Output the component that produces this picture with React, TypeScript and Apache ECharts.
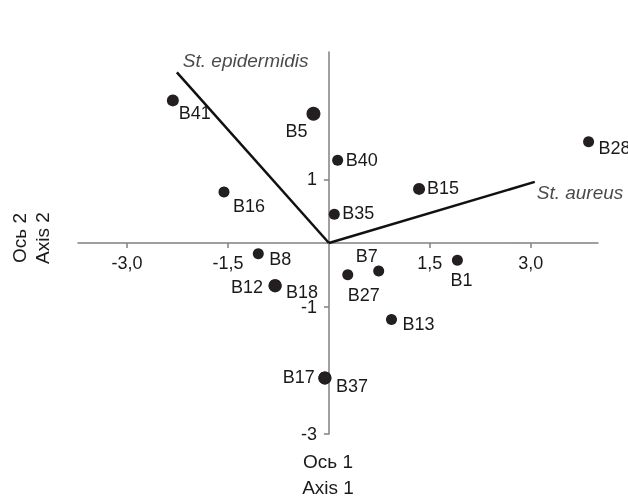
import React, { useEffect, useRef } from "react";
import * as echarts from "echarts";

// ---- data ----
const pointNames = ["B41", "B5", "B40", "B35", "B16", "B15", "B28", "B8", "B12", "B18", "B27", "B7", "B1", "B13", "B17", "B37"];
const axis1Values = [-2.32, -0.23, 0.13, 0.08, -1.56, 1.34, 3.86, -1.05, -0.8, -0.8, 0.28, 0.74, 1.91, 0.93, -0.06, -0.06];
const axis2Values = [2.24, 2.03, 1.3, 0.45, 0.8, 0.85, 1.59, -0.17, -0.67, -0.67, -0.5, -0.44, -0.27, -1.2, -2.12, -2.12];

const vectorNames = ["St. epidermidis", "St. aureus"];
const vectorX = [-2.26, 3.06];
const vectorY = [2.68, 0.96];

const xMin = -3.73;
const xMax = 4.0;
const yMin = -3;
const yMax = 3;
const xTicks = [-3, -1.5, 1.5, 3];
const yTicks = [1, -1, -3];

const xTitle = ["Ось 1", "Axis 1"];
const yTitle = ["Ось 2", "Axis 2"];

// ---- styling / layout (not data) ----
const FONT = "Liberation Sans, Arial, sans-serif";
const TEXT = "#1a1a1a";
const GRID = { left: 78, right: 30, top: 52, bottom: 63 };
const W = 628;
const H = 497;
const dotSize: Record<string, number> = { B5: 14, B12: 13, B18: 13, B17: 13, B37: 13, B41: 12, B15: 12 };
// label placement: [align, dx, dy]
const labelPlace: Record<string, [string, number, number]> = {
  B41: ["left", 6, 13],
  B5: ["right", -6, 17],
  B40: ["left", 8, 0],
  B35: ["left", 8, -1],
  B16: ["left", 9, 14],
  B15: ["left", 8, -1],
  B28: ["left", 10, 6],
  B8: ["left", 11, 5],
  B12: ["right", -12, 1],
  B18: ["left", 11, 6],
  B27: ["left", 0, 20],
  B7: ["right", -1, -15],
  B1: ["center", 4, 20],
  B13: ["left", 11, 5],
  B17: ["right", -10, -1],
  B37: ["left", 11, 8],
};
const vectorLabelPlace: [string, number, number][] = [
  ["left", 6, -12],
  ["left", 2, 11],
];

export default function App() {
  const ref = useRef<HTMLDivElement>(null);
  useEffect(() => {
    if (!ref.current) return;
    const chart = echarts.init(ref.current, null, { renderer: "svg" });

    // where zero falls inside the grid (used to shift the axes onto the origin)
    const plotW = W - GRID.left - GRID.right;
    const plotH = H - GRID.top - GRID.bottom;
    const yAxisShift = (-xMin / (xMax - xMin)) * plotW;
    const xAxisShift = (-yMin / (yMax - yMin)) * plotH;

    const pointData = pointNames.map((n, i) => {
      const p = labelPlace[n];
      const s = dotSize[n] || 11;
      return {
        name: n,
        value: [axis1Values[i], axis2Values[i]],
        symbolSize: s,
        label: {
          show: true,
          formatter: n,
          position: [0, 0],
          align: p[0],
          verticalAlign: "middle",
          offset: [p[1] + s / 2, p[2] + s / 2],
          color: TEXT,
          fontSize: 18,
          fontFamily: FONT,
        },
      };
    });

    const vectorSeries = vectorNames.map((n, i) => ({
      type: "line",
      data: [
        [0, 0],
        [vectorX[i], vectorY[i]],
      ],
      symbol: "none",
      lineStyle: { color: "#111", width: 2.5 },
      silent: true,
      z: 2,
    }));

    const vectorLabelData = vectorNames.map((n, i) => ({
      name: n,
      value: [vectorX[i], vectorY[i]],
      label: {
        show: true,
        formatter: n,
        position: [0, 0],
        align: vectorLabelPlace[i][0],
        verticalAlign: "middle",
        offset: [vectorLabelPlace[i][1], vectorLabelPlace[i][2]],
        fontStyle: "italic",
        fontSize: 19,
        color: TEXT,
        fontFamily: FONT,
      },
    }));

    const axisColor = "#808080";

    chart.setOption({
      animation: false,
      textStyle: { fontFamily: FONT },
      grid: GRID,
      xAxis: {
        type: "value",
        min: xMin,
        max: xMax,
        position: "bottom",
        offset: -xAxisShift,
        axisLine: { onZero: false, lineStyle: { color: axisColor, width: 1.5 } },
        axisTick: { show: true, length: 5, customValues: xTicks, lineStyle: { color: axisColor, width: 1.5 } },
        axisLabel: {
          customValues: xTicks,
          formatter: (v: number) => v.toFixed(1).replace(".", ","),
          color: TEXT,
          fontSize: 18,
          margin: 11,
          fontFamily: FONT,
        },
        splitLine: { show: false },
      },
      yAxis: {
        type: "value",
        min: yMin,
        max: yMax,
        position: "left",
        offset: -yAxisShift,
        axisLine: { onZero: false, lineStyle: { color: axisColor, width: 1.5 } },
        axisTick: { show: true, length: 5, customValues: yTicks, lineStyle: { color: axisColor, width: 1.5 } },
        axisLabel: {
          customValues: yTicks,
          formatter: (v: number) => String(v),
          color: TEXT,
          fontSize: 18,
          margin: 12,
          fontFamily: FONT,
        },
        splitLine: { show: false },
      },
      series: [
        ...vectorSeries,
        {
          type: "scatter",
          data: vectorLabelData,
          symbolSize: 0.1,
          itemStyle: { color: "#111" },
          silent: true,
          z: 3,
        },
        {
          type: "scatter",
          data: pointData,
          itemStyle: { color: "#231f20", opacity: 1 },
          silent: true,
          z: 4,
        },
      ],
      graphic: [
        { type: "text", x: 328, y: 461, style: { text: xTitle[0], font: `19px ${FONT}`, fill: TEXT, textAlign: "center", textVerticalAlign: "middle" } },
        { type: "text", x: 328, y: 487, style: { text: xTitle[1], font: `19px ${FONT}`, fill: TEXT, textAlign: "center", textVerticalAlign: "middle" } },
        { type: "text", x: 19, y: 238, rotation: Math.PI / 2, style: { text: yTitle[0], font: `19px ${FONT}`, fill: TEXT, textAlign: "center", textVerticalAlign: "middle" } },
        { type: "text", x: 42, y: 238, rotation: Math.PI / 2, style: { text: yTitle[1], font: `19px ${FONT}`, fill: TEXT, textAlign: "center", textVerticalAlign: "middle" } },
      ],
    });
    return () => chart.dispose();
  }, []);
  return <div ref={ref} style={{ position: "fixed", left: 0, top: 0, width: W, height: H }} />;
}
